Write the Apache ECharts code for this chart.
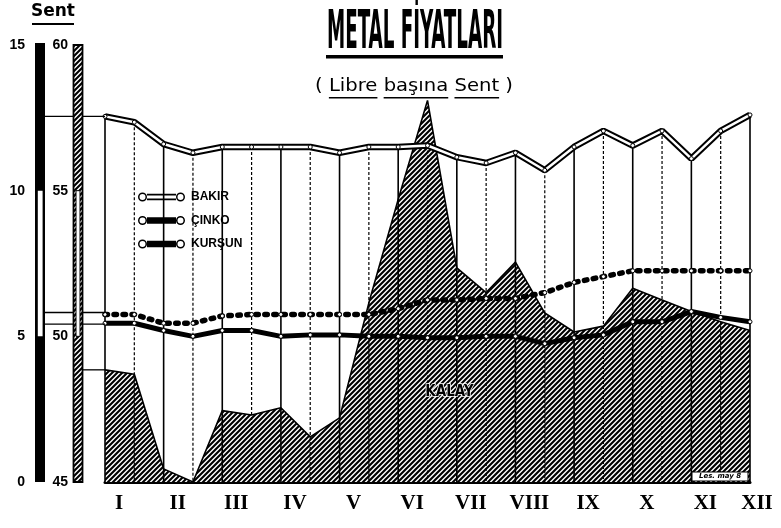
<!DOCTYPE html>
<html><head><meta charset="utf-8">
<script src="https://cdn.jsdelivr.net/npm/echarts@6/dist/echarts.min.js"></script>
<style>html,body{margin:0;padding:0;background:#fff}#c{width:781px;height:528px}</style>
</head><body><div id="c"></div>
<script>
// ---- data (two readings per month, I .. XII) ----
const months = ['I','II','III','IV','V','VI','VII','VIII','IX','X','XI','XII'];
const halfMonthIndex = ['1a','1b','2a','2b','3a','3b','4a','4b','5a','5b','6a','6b','7a','7b','8a','8b','9a','9b','10a','10b','11a','11b','12a'];
const copper = [12.55, 12.35, 11.6, 11.3, 11.5, 11.5, 11.5, 11.5, 11.3, 11.5, 11.5, 11.55, 11.15, 10.95, 11.3, 10.7, 11.5, 12.05, 11.55, 12.05, 11.1, 12.05, 12.6];
const zinc   = [5.75, 5.75, 5.45, 5.45, 5.7, 5.75, 5.75, 5.75, 5.75, 5.75, 5.95, 6.25, 6.25, 6.3, 6.3, 6.5, 6.85, 7.05, 7.25, 7.25, 7.25, 7.25, 7.25];
const lead   = [5.45, 5.45, 5.2, 5.0, 5.2, 5.2, 5.0, 5.05, 5.05, 5.0, 5.0, 4.95, 4.95, 5.0, 5.0, 4.75, 4.95, 5.05, 5.5, 5.5, 5.85, 5.65, 5.5];
const tin    = [48.85, 48.7, 45.45, 45.0, 47.45, 47.3, 47.55, 46.55, 47.2, 51.15, 54.7, 58.1, 52.35, 51.5, 52.55, 50.8, 50.15, 50.35, 51.65, 51.25, 50.85, 50.5, 50.2];
const leftAxis  = [0, 15, 5];   // min, max, step  (cents: copper, zinc, lead)
const rightAxis = [45, 60, 5];  // min, max, step  (cents: tin)

const titleText = 'METAL FİYATLARI';
const subWords = ['Libre', 'başına', 'Sent'];

function makeHatch() {
  const c = document.createElement('canvas'); c.width = 5; c.height = 5;
  const g = c.getContext('2d');
  g.fillStyle = '#fff'; g.fillRect(0, 0, 5, 5);
  g.strokeStyle = '#000'; g.lineWidth = 2.1;
  g.beginPath();
  g.moveTo(-1, 6); g.lineTo(6, -1);
  g.moveTo(-1, 1); g.lineTo(1, -1);
  g.moveTo(4, 6); g.lineTo(6, 4);
  g.stroke();
  return c;
}
const hatch = makeHatch();
const hatchFill = { image: hatch, repeat: 'repeat' };

const RING = 'M0.5,5A4.5,4.5,0,1,1,9.5,5A4.5,4.5,0,1,1,0.5,5Z M2,5A3,3,0,1,0,8,5A3,3,0,1,0,2,5Z M38.5,5A4.5,4.5,0,1,1,47.5,5A4.5,4.5,0,1,1,38.5,5Z M40,5A3,3,0,1,0,46,5A3,3,0,1,0,40,5Z';
const ICON_SOLID = 'path://' + RING + ' M9.5,1.8L38.5,1.8L38.5,8.2L9.5,8.2Z';
const ICON_HOLLOW = 'path://' + RING + ' M9.5,1.8L38.5,1.8L38.5,3.5L9.5,3.5Z M9.5,6.5L38.5,6.5L38.5,8.2L9.5,8.2Z';

const numFont = '"Liberation Sans", Arial, sans-serif';
const chart = echarts.init(document.getElementById('c'), null, { renderer: 'canvas' });

const dotStyle = { color: '#fff', borderColor: '#000', borderWidth: 1 };
chart.setOption({
  animation: false,
  backgroundColor: '#fff',
  grid: { left: 105, right: 31, top: 45, bottom: 46 },
  legend: {
    orient: 'vertical', left: 133, top: 186, itemWidth: 47, itemHeight: 9, itemGap: 11.5,
    selectedMode: false,
    textStyle: { fontFamily: numFont, fontWeight: 'bold', fontSize: 12, color: '#000', lineHeight: 12, padding: [0, 0, 0, 1] },
    data: [
      { name: 'BAKIR', icon: ICON_HOLLOW, itemStyle: { color: '#000', borderWidth: 0 } },
      { name: 'ÇINKO', icon: ICON_SOLID, itemStyle: { color: '#000', borderWidth: 0 } },
      { name: 'KURŞUN', icon: ICON_SOLID, itemStyle: { color: '#000', borderWidth: 0 } }
    ]
  },
  xAxis: {
    type: 'category', data: halfMonthIndex, boundaryGap: false,
    axisLine: { lineStyle: { color: '#000', width: 3 } },
    axisTick: { show: false }, splitLine: { show: false },
    axisLabel: {
      interval: 0, margin: 11, color: '#000', fontSize: 21, fontWeight: 'bold',
      fontFamily: '"Liberation Serif", "DejaVu Serif", serif',
      formatter: (v, i) => (i % 2 === 0 ? (i === 22 ? '{e|' + months[i / 2] + '}' : '{m|' + months[i / 2] + '}') : ''),
      rich: {
        m: { fontSize: 21, fontWeight: 'bold', fontFamily: '"Liberation Serif", "DejaVu Serif", serif', color: '#000', padding: [0, 0, 0, 28] },
        e: { fontSize: 21, fontWeight: 'bold', fontFamily: '"Liberation Serif", "DejaVu Serif", serif', color: '#000', padding: [0, 0, 0, 14] }
      }
    }
  },
  yAxis: [
    {
      type: 'value', position: 'left', offset: 65,
      min: leftAxis[0], max: leftAxis[1], interval: leftAxis[2],
      axisLine: { show: false },
      axisTick: { show: false }, splitLine: { show: false },
      axisLabel: { margin: 15, color: '#000', fontSize: 14, fontWeight: 'bold', fontFamily: numFont }
    },
    {
      type: 'value', position: 'left', offset: 27,
      min: rightAxis[0], max: rightAxis[1], interval: rightAxis[2],
      axisLine: { show: false }, axisTick: { show: false }, splitLine: { show: false },
      axisLabel: { margin: 10, color: '#000', fontSize: 14, fontWeight: 'bold', fontFamily: numFont }
    }
  ],
  series: [
    {
      name: 'KALAY', type: 'line', yAxisIndex: 1, data: tin, symbol: 'none', z: 1,
      lineStyle: { color: '#000', width: 1.6 },
      areaStyle: { color: hatchFill, opacity: 1 }
    },
    {
      name: 'dikey', type: 'custom', z: 2, silent: true,
      data: copper.map((v, i) => [i, v]), encode: { x: 0, y: 1 },
      renderItem: function (params, api) {
        const i = api.value(0);
        const top = api.coord([i, api.value(1)]);
        const bot = api.coord([i, 0]);
        return {
          type: 'line',
          shape: { x1: top[0], y1: top[1], x2: bot[0], y2: bot[1] },
          style: { stroke: '#000', lineWidth: i % 2 === 0 ? 1.6 : 1.2, lineDash: i % 2 === 0 ? null : [3, 2] }
        };
      }
    },
    {
      name: 'KURŞUN', type: 'line', data: lead, z: 3, showAllSymbol: true,
      symbol: 'circle', symbolSize: 4, itemStyle: dotStyle,
      lineStyle: { color: '#000', width: 5 }
    },
    {
      name: 'ÇINKO', type: 'line', data: zinc, z: 3, showAllSymbol: true,
      symbol: 'circle', symbolSize: 4, itemStyle: dotStyle,
      lineStyle: { color: '#000', width: 5.5, type: [2.5, 6.5], cap: 'round' }
    },
    {
      name: 'BAKIR kontur', type: 'line', data: copper, z: 3, symbol: 'none',
      lineStyle: { color: '#000', width: 6.5 }
    },
    {
      name: 'BAKIR', type: 'line', data: copper, z: 4, showAllSymbol: true,
      symbol: 'circle', symbolSize: 4, itemStyle: dotStyle,
      lineStyle: { color: '#fff', width: 2.5 }
    }
  ]
});

// ---- decorations computed from the axes ----
const yL = v => chart.convertToPixel({ yAxisIndex: 0 }, v);
const yR = v => chart.convertToPixel({ yAxisIndex: 1 }, v);
const xC = i => chart.convertToPixel({ xAxisIndex: 0 }, i);
const mctx = document.createElement('canvas').getContext('2d');
function measure(font, t) { mctx.font = font; return mctx.measureText(t).width; }

const g = [];
// connector lines from the scale bars to the first readings
const x0 = xC(0);
g.push({ type: 'line', z: 5, shape: { x1: 45, y1: yL(copper[0]), x2: x0, y2: yL(copper[0]) }, style: { stroke: '#000', lineWidth: 1.3 } });
g.push({ type: 'line', z: 5, shape: { x1: 45, y1: yL(zinc[0]) - 2, x2: x0, y2: yL(zinc[0]) - 2 }, style: { stroke: '#000', lineWidth: 1.3 } });
g.push({ type: 'line', z: 5, shape: { x1: 45, y1: yL(lead[0]) + 1, x2: x0, y2: yL(lead[0]) + 1 }, style: { stroke: '#000', lineWidth: 1.3 } });
g.push({ type: 'line', z: 5, shape: { x1: 83, y1: yR(tin[0]), x2: x0, y2: yR(tin[0]) }, style: { stroke: '#000', lineWidth: 1.3 } });
// black scale bar 0..15 with white segment 5..10
g.push({ type: 'rect', z: 19, shape: { x: 35, y: yL(15) - 2, width: 10, height: yL(0) - yL(15) + 2 }, style: { fill: '#000' } });
g.push({ type: 'rect', z: 20, shape: { x: 37.8, y: yL(10), width: 4.8, height: yL(5) - yL(10) }, style: { fill: '#fff' } });
// hatched bar for tin scale
g.push({ type: 'rect', z: 20, shape: { x: 73.5, y: yR(60), width: 9, height: yR(45) - yR(60) }, style: { fill: hatchFill, stroke: '#000', lineWidth: 1.8 } });
g.push({ type: 'rect', z: 21, shape: { x: 76, y: yR(55), width: 4, height: yR(50) - yR(55) }, style: { fill: '#fff', stroke: '#000', lineWidth: 1 } });

// Title
const tFont = 'bold 53px "Liberation Sans Narrow", "DejaVu Sans Condensed", "Liberation Sans", sans-serif';
const tW = measure(tFont, titleText);
g.push({ type: 'text', z: 30, x: 415, y: 34, scaleX: 176 / tW, scaleY: 1,
  style: { text: titleText, font: tFont, align: 'center', verticalAlign: 'middle', fill: '#000' } });
g.push({ type: 'rect', z: 30, shape: { x: 326, y: 55, width: 177, height: 3.5 }, style: { fill: '#000' } });

// Subtitle
const sFont = '17px "DejaVu Sans", sans-serif';
const subText = '( ' + subWords.join(' ') + ' )';
const sW = measure(sFont, subText);
const sS = 198 / sW;
const sX0 = 414 - 99;
g.push({ type: 'text', z: 30, x: 414, y: 87, scaleX: sS,
  style: { text: subText, font: sFont, align: 'center', verticalAlign: 'middle', fill: '#000' } });
let prefix = '( ';
subWords.forEach((w, k) => {
  const a = sX0 + sS * measure(sFont, prefix);
  const b = a + sS * measure(sFont, w);
  g.push({ type: 'rect', z: 30, shape: { x: a, y: 97, width: b - a, height: 1.6 }, style: { fill: '#000' } });
  prefix += w + ' ';
});

// "Sent" unit label
g.push({ type: 'text', z: 30, x: 53, y: 12,
  style: { text: 'Sent', font: 'bold 17px "DejaVu Sans", sans-serif', align: 'center', verticalAlign: 'middle', fill: '#000' } });
g.push({ type: 'rect', z: 30, shape: { x: 32, y: 23, width: 42, height: 2 }, style: { fill: '#000' } });

// KALAY label inside hatched area
g.push({ type: 'text', z: 30, x: xC(11) * 0.25 + xC(12) * 0.75, y: yR(48.1),
  style: { text: 'KALAY', font: 'bold 15px "Liberation Sans Narrow", "DejaVu Sans Condensed", sans-serif', align: 'center', verticalAlign: 'middle', fill: '#000', stroke: '#fff', lineWidth: 1.5 } });

// small signature box
g.push({ type: 'rect', z: 30, shape: { x: 692, y: 472, width: 56, height: 9 }, style: { fill: '#fff', stroke: '#000', lineWidth: 1 } });
g.push({ type: 'text', z: 31, x: 720, y: 476.5,
  style: { text: 'Les. may 8', font: 'bold italic 7px "DejaVu Sans", sans-serif', align: 'center', verticalAlign: 'middle', fill: '#000' } });

chart.setOption({ graphic: g });
</script>
</body></html>
